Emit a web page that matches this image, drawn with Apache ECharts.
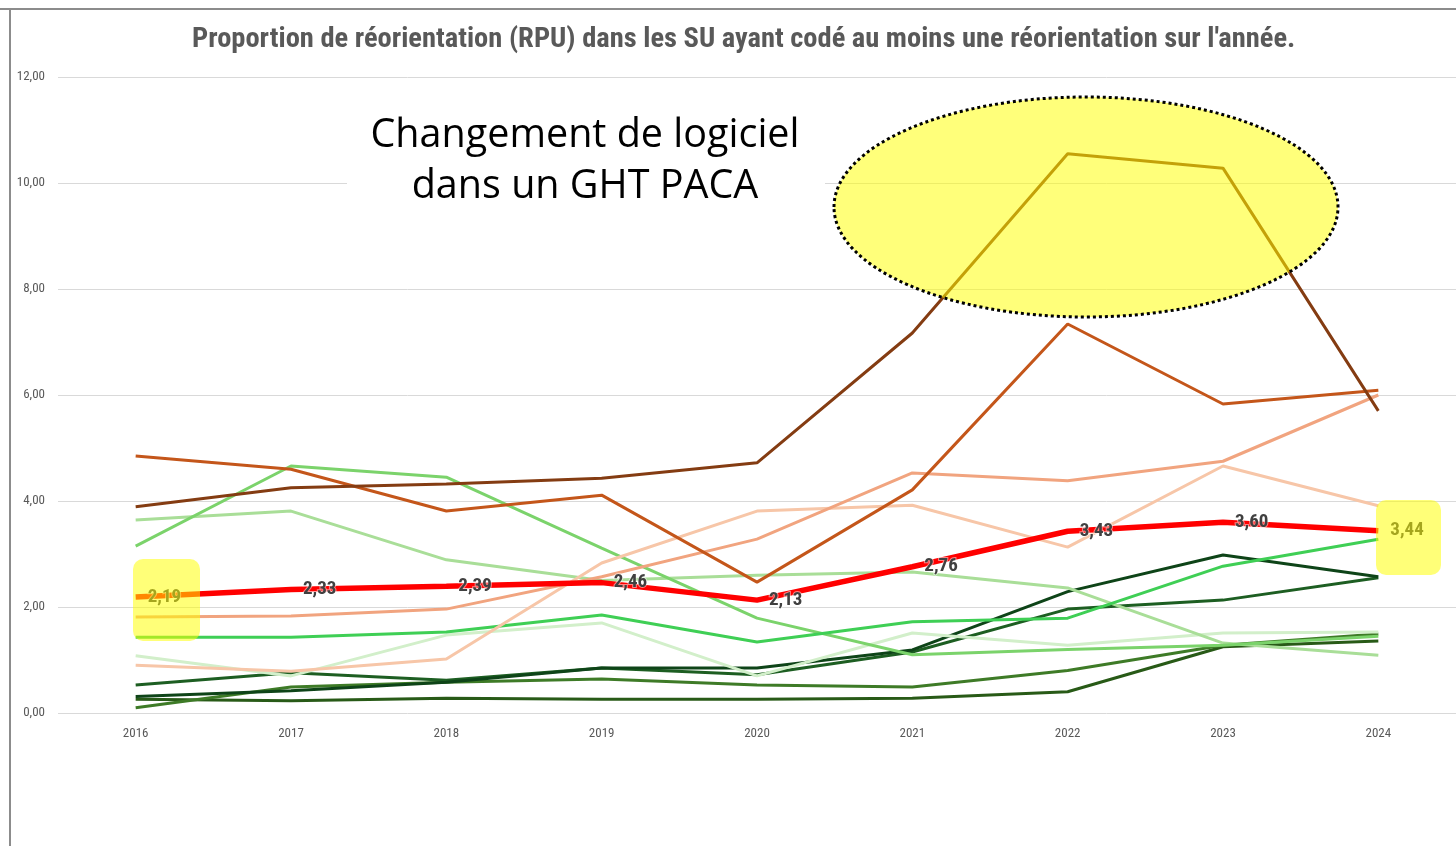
<!DOCTYPE html>
<html>
<head>
<meta charset="utf-8">
<title>Proportion de réorientation</title>
<script src="https://cdn.jsdelivr.net/npm/echarts@6/dist/echarts.min.js"></script>
<style>
  html, body { margin: 0; padding: 0; background: #fff; }
  #chart { width: 1456px; height: 846px; }
</style>
</head>
<body>
<div id="chart"></div>
<script>
// années
const annees = ['2016', '2017', '2018', '2019', '2020', '2021', '2022', '2023', '2024']
const yTicks = [0, 2, 4, 6, 8, 10, 12]

// séries
const brunFonce = [3.89, 4.25, 4.32, 4.43, 4.72, 7.17, 10.55, 10.28, 5.70]
const orangeBrun = [4.85, 4.60, 3.81, 4.11, 2.47, 4.21, 7.34, 5.83, 6.09]
const saumon = [1.81, 1.83, 1.96, 2.57, 3.28, 4.53, 4.38, 4.75, 6.00]
const saumonClair = [0.90, 0.79, 1.02, 2.83, 3.81, 3.92, 3.13, 4.66, 3.91]
const vertMoyen = [3.15, 4.66, 4.45, 3.11, 1.79, 1.10, 1.20, 1.28, 1.45]
const vertPale = [3.64, 3.81, 2.89, 2.50, 2.60, 2.66, 2.36, 1.32, 1.09]
const vertVif = [1.43, 1.43, 1.53, 1.85, 1.34, 1.72, 1.79, 2.77, 3.28]
const vertTresPale = [1.08, 0.70, 1.47, 1.70, 0.70, 1.51, 1.28, 1.51, 1.53]
const vertFonceA = [0.53, 0.76, 0.62, 0.85, 0.72, 1.15, 1.96, 2.13, 2.55]
const vertFonceB = [0.31, 0.42, 0.58, 0.85, 0.85, 1.19, 2.29, 2.98, 2.57]
const vertFonceC = [0.10, 0.49, 0.58, 0.64, 0.53, 0.49, 0.80, 1.28, 1.49]
const vertFonceD = [0.26, 0.23, 0.28, 0.26, 0.26, 0.28, 0.40, 1.25, 1.36]
const moyenne = [2.19, 2.33, 2.39, 2.46, 2.13, 2.76, 3.43, 3.60, 3.44]

const virgule = v => Number(v).toFixed(2).replace('.', ',')
const narrow = "'Liberation Sans Narrow', 'Arial Narrow', 'Roboto Condensed', sans-serif"

function ligne(name, data, color, width) {
  return {
    name: name,
    type: 'line',
    data: data,
    showSymbol: false,
    symbol: 'none',
    lineStyle: { color: color, width: width || 3 },
    itemStyle: { color: color },
    z: 2
  }
}

const chart = echarts.init(document.getElementById('chart'))
chart.setOption({
  animation: false,
  title: {
    text: "Proportion de réorientation (RPU) dans les SU ayant codé au moins une réorientation sur l'année.",
    left: 187,
    top: 20,
    textStyle: {
      fontFamily: narrow,
      fontWeight: 'bold',
      fontSize: 28.5,
      color: '#595959'
    }
  },
  grid: {
    left: 58,
    top: 77,
    width: 1400,
    height: 636
  },
  xAxis: {
    type: 'category',
    data: annees,
    boundaryGap: true,
    axisLine: { show: false },
    axisTick: { show: false },
    axisLabel: {
      color: '#595959',
      fontFamily: narrow,
      fontSize: 13,
      margin: 14
    }
  },
  yAxis: {
    type: 'value',
    min: yTicks[0],
    max: yTicks[yTicks.length - 1],
    interval: 2,
    axisLine: { show: false },
    axisTick: { show: false },
    splitLine: { lineStyle: { color: '#D9D9D9', width: 1 } },
    axisLabel: {
      color: '#595959',
      fontFamily: narrow,
      fontSize: 13,
      margin: 13,
      formatter: v => virgule(v)
    }
  },
  series: [
    ligne('SU 1', vertFonceD, '#285A17'),
    ligne('SU 2', vertFonceC, '#3E7B27'),
    ligne('SU 3', vertFonceA, '#1D5E22'),
    ligne('SU 4', vertFonceB, '#0E4418'),
    ligne('SU 5', vertTresPale, '#D2EFCA'),
    ligne('SU 6', vertPale, '#A9DE98'),
    ligne('SU 7', vertMoyen, '#7BD36B'),
    ligne('SU 8', vertVif, '#3FCF55'),
    ligne('SU 9', saumonClair, '#F7C6A8'),
    ligne('SU 10', saumon, '#F1A47F'),
    ligne('SU 11', orangeBrun, '#C4561A'),
    ligne('SU 12', brunFonce, '#843C12'),
    {
      name: 'Moyenne',
      type: 'line',
      data: moyenne,
      symbol: 'circle',
      symbolSize: 0,
      showSymbol: true,
      lineStyle: { color: '#FF0000', width: 5.5 },
      itemStyle: { color: '#FF0000' },
      z: 5,
      label: {
        show: true,
        position: 'right',
        distance: 12,
        color: '#404040',
        fontFamily: narrow,
        fontWeight: 'bold',
        fontSize: 19,
        textBorderColor: 'rgba(255,255,255,0.5)',
        textBorderWidth: 2,
        formatter: p => virgule(p.value)
      }
    }
  ],
  graphic: [
    // cadre
    { type: 'rect', shape: { x: 0, y: 8, width: 1456, height: 2 }, style: { fill: '#8C8C8C' }, z: 50, silent: true },
    { type: 'rect', shape: { x: 9, y: 8, width: 2, height: 838 }, style: { fill: '#8C8C8C' }, z: 50, silent: true },
    // zone de texte
    { type: 'rect', shape: { x: 347, y: 100, width: 478, height: 115 }, style: { fill: '#FFFFFF' }, z: 50, silent: true },
    {
      type: 'text',
      x: 585,
      y: 110,
      z: 51,
      style: {
        text: 'Changement de logiciel\ndans un GHT PACA',
        align: 'center',
        fontFamily: "'Open Sans', 'Noto Sans', sans-serif",
        fontSize: 39.5,
        lineHeight: 51,
        fill: '#000000'
      }
    },
    // ellipse surlignée
    {
      type: 'ellipse',
      shape: { cx: 1086, cy: 207, rx: 252, ry: 110 },
      style: { fill: 'rgba(255,255,0,0.52)', stroke: '#000000', lineWidth: 3, lineDash: [3, 3] },
      z: 60,
      silent: true
    },
    // encadrés jaunes
    { type: 'rect', shape: { x: 133, y: 559, width: 67, height: 82, r: 10 }, style: { fill: 'rgba(255,255,0,0.53)' }, z: 60, silent: true },
    { type: 'rect', shape: { x: 1376, y: 500, width: 65, height: 75, r: 10 }, style: { fill: 'rgba(255,255,0,0.53)' }, z: 60, silent: true }
  ]
})
</script>
</body>
</html>
